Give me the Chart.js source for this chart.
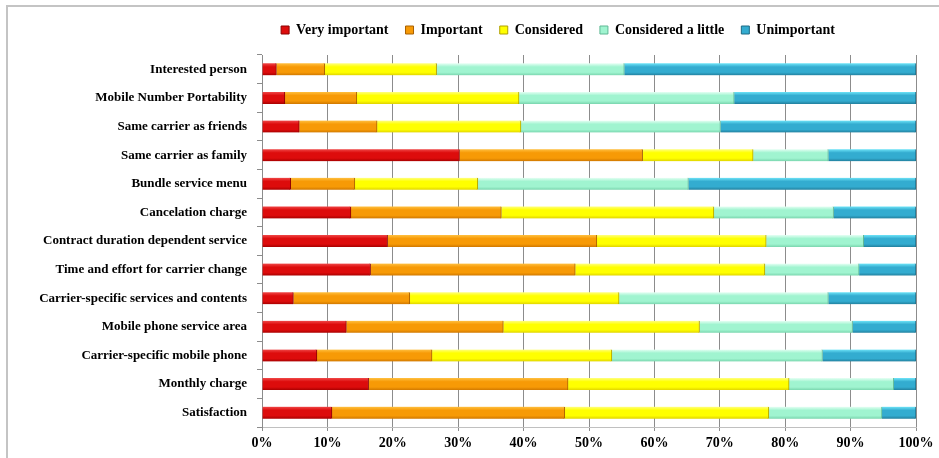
<!DOCTYPE html>
<html><head><meta charset="utf-8">
<script src="https://cdn.jsdelivr.net/npm/chart.js@4.4.1/dist/chart.umd.min.js"></script>
<style>
html,body{margin:0;padding:0;background:#fff;}
#wrap{position:relative;width:939px;height:458px;overflow:hidden;}
#frame{position:absolute;left:6px;top:5px;width:1000px;height:1000px;border-left:2px solid #c4c4c4;border-top:2px solid #c4c4c4;pointer-events:none;}
</style></head><body>
<div id="wrap"><canvas id="c" width="939" height="458"></canvas><div id="frame"></div></div>
<script>
const categories = [
  'Interested person',
  'Mobile Number Portability',
  'Same carrier as friends',
  'Same carrier as family',
  'Bundle service menu',
  'Cancelation charge',
  'Contract duration dependent service',
  'Time and effort for carrier change',
  'Carrier-specific services and contents',
  'Mobile phone service area',
  'Carrier-specific mobile phone',
  'Monthly charge',
  'Satisfaction'
];
const veryImportant     = [2.2, 3.5, 5.7, 30.2, 4.4, 13.6, 19.2, 16.6, 4.8, 12.9, 8.4, 16.3, 10.7];
const important         = [7.4, 11.0, 11.9, 28.0, 9.8, 23.0, 32.0, 31.3, 17.8, 24.0, 17.6, 30.5, 35.6];
const considered        = [17.1, 24.8, 22.0, 16.9, 18.8, 32.5, 25.9, 29.0, 32.0, 30.0, 27.5, 33.8, 31.2];
const consideredLittle  = [28.7, 32.9, 30.5, 11.5, 32.2, 18.3, 14.9, 14.4, 32.0, 23.4, 32.2, 16.0, 17.3];
const unimportant       = [44.6, 27.8, 29.9, 13.4, 34.8, 12.6, 8.0, 8.7, 13.4, 9.7, 14.3, 3.4, 5.2];
const seriesNames = ['Very important', 'Important', 'Considered', 'Considered a little', 'Unimportant'];
const xTicks = [0,10,20,30,40,50,60,70,80,90,100];

const palette = [
  ['#f04848', '#dd0c0c', '#a80000', '#8a0000'],
  ['#ffc040', '#f79a06', '#d07800', '#a86000'],
  ['#ffff80', '#ffff00', '#e0d400', '#b0a000'],
  ['#e6fff4', '#a0f4d0', '#7ad6ae', '#5fb894'],
  ['#6ee4f8', '#33acd0', '#22809e', '#1d6a84']
];
function grad(c){
  return (ctx) => {
    const ch = ctx.chart;
    const y = ch.scales && ch.scales.y;
    if (!y || ctx.dataIndex === undefined || ctx.type !== 'data') return c[1];
    const p = y.getPixelForValue(ctx.dataIndex);
    if (!isFinite(p)) return c[1];
    const g = ch.ctx.createLinearGradient(0, p - 6, 0, p + 6);
    g.addColorStop(0, c[0]);
    g.addColorStop(0.3, c[1]);
    g.addColorStop(0.75, c[1]);
    g.addColorStop(1, c[2]);
    return g;
  };
}
const values = [veryImportant, important, considered, consideredLittle, unimportant];
const datasets = seriesNames.map((n, i) => ({
  label: n,
  data: values[i],
  backgroundColor: grad(palette[i]),
  borderColor: palette[i][3],
  borderWidth: {right: 1, left: 0, top: 0, bottom: 0},
  borderSkipped: false,
  barThickness: 12
}));

const FONT = "'Liberation Serif', 'Times New Roman', serif";
const legendShift = {
  id: 'legendShift',
  beforeInit(chart){
    const lg = chart.legend;
    const f = lg.fit.bind(lg);
    lg.fit = function(){ f(); this.height = 49; };
  },
  afterLayout(chart){
    const lg = chart.legend;
    lg.left += 100; lg.right += 100;
  }
};

new Chart(document.getElementById('c'), {
  type: 'bar',
  data: { labels: categories, datasets },
  plugins: [legendShift],
  options: {
    responsive: false,
    animation: false,
    indexAxis: 'y',
    layout: { padding: { top: 6, left: 0, right: 23, bottom: 0 } },
    plugins: {
      tooltip: { enabled: false },
      legend: {
        position: 'top',
        labels: {
          boxWidth: 8, boxHeight: 8, padding: 17,
          color: '#000',
          font: { family: FONT, size: 14, weight: 'bold' },
          generateLabels(chart){
            const items = Chart.defaults.plugins.legend.labels.generateLabels(chart);
            items.forEach((it, i) => { it.fillStyle = palette[i][1]; it.strokeStyle = palette[i][3]; it.lineWidth = 1; });
            return items;
          }
        }
      }
    },
    scales: {
      x: {
        stacked: true, min: 0, max: 100,
        afterBuildTicks(s){ s.ticks = xTicks.map(v => ({value: v})); },
        afterFit(s){ s.height = 31; },
        ticks: { callback: v => v + '%', color: '#000', padding: 4, maxRotation: 0,
                 font: { family: FONT, size: 14, weight: 'bold' } },
        grid: { color: '#8c8c8c', lineWidth: 1, tickLength: 4 },
        border: { color: '#c0c0c0', width: 1 }
      },
      y: {
        stacked: true,
        afterFit(s){ s.width = 262; },
        ticks: { color: '#000', padding: 10, font: { family: FONT, size: 13, weight: 'bold' } },
        grid: { drawOnChartArea: false, offset: true, color: '#8c8c8c', tickLength: 5 },
        border: { color: '#8c8c8c', width: 1 }
      }
    }
  }
});
</script>
</body></html>
